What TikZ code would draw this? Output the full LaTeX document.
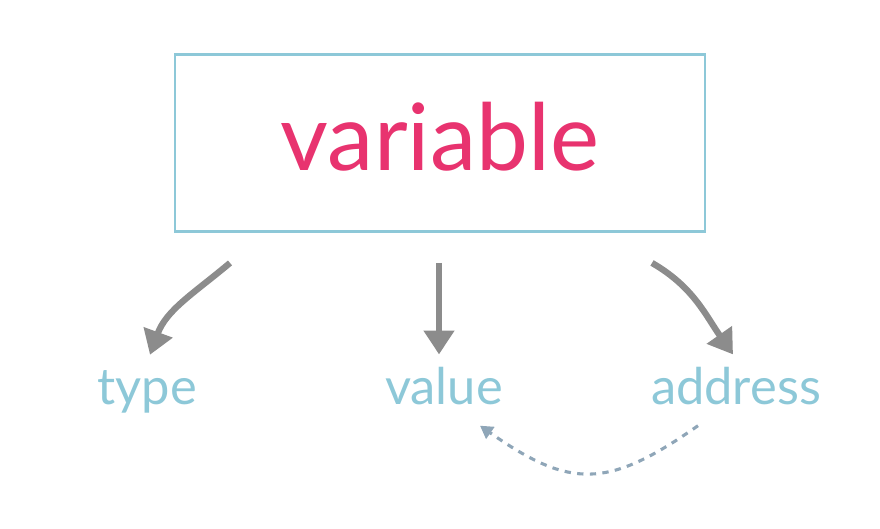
\documentclass[tikz,border=0pt]{standalone}
\usepackage{fontspec}
\setmainfont{Lato}
\usetikzlibrary{arrows.meta,calc}
\definecolor{hotpink}{HTML}{E8336F}
\definecolor{skyblue}{HTML}{8DC8D8}
\definecolor{arrowgray}{HTML}{8C8C8C}
\definecolor{dashgray}{HTML}{8FA6B8}

\begin{document}
\begin{tikzpicture}[x=0.025cm,y=-0.025cm,
  bigarrow/.style={arrowgray,line width=4.5pt,-{Triangle[width=21pt,length=17pt]}},
  backarrow/.style={dashgray,line width=2.2pt,dash pattern=on 4.5pt off 4.5pt,-{Triangle[width=10pt,length=9pt]}},
  word/.style={skyblue,font=\fontsize{36}{36}\selectfont,inner sep=0pt,anchor=base}]
  \useasboundingbox (0,0) rectangle (880,528);
  % the box
  \node[draw=skyblue,line width=2pt,minimum width=13.25cm,minimum height=4.425cm,text depth=10pt,
        text=hotpink,font=\fontsize{66}{66}\selectfont] (var) at (440,143) {variable};
  % the three parts
  \node[word] (type) at (147,404) {type};
  \node[word] (value) at (444,404) {value};
  \node[word] (address) at (736,404) {address};
  % arrows down from the box
  \draw[bigarrow] ($(var.south)+(-210,30)$) to[out=-140,in=70] ($(type.north)+(3,-15)$);
  \draw[bigarrow] ($(var.south)+(-1,30)$) -- ($(value.north)+(-5,-12)$);
  \draw[bigarrow] ($(var.south)+(212,30)$) to[out=-30,in=125] ($(address.north)+(-3,-12)$);
  % address points back to value
  \draw[backarrow] ($(address.south)+(-38,21)$) to[out=-145,in=-35,looseness=1.3] ($(value.south)+(36,21)$);
\end{tikzpicture}
\end{document}
